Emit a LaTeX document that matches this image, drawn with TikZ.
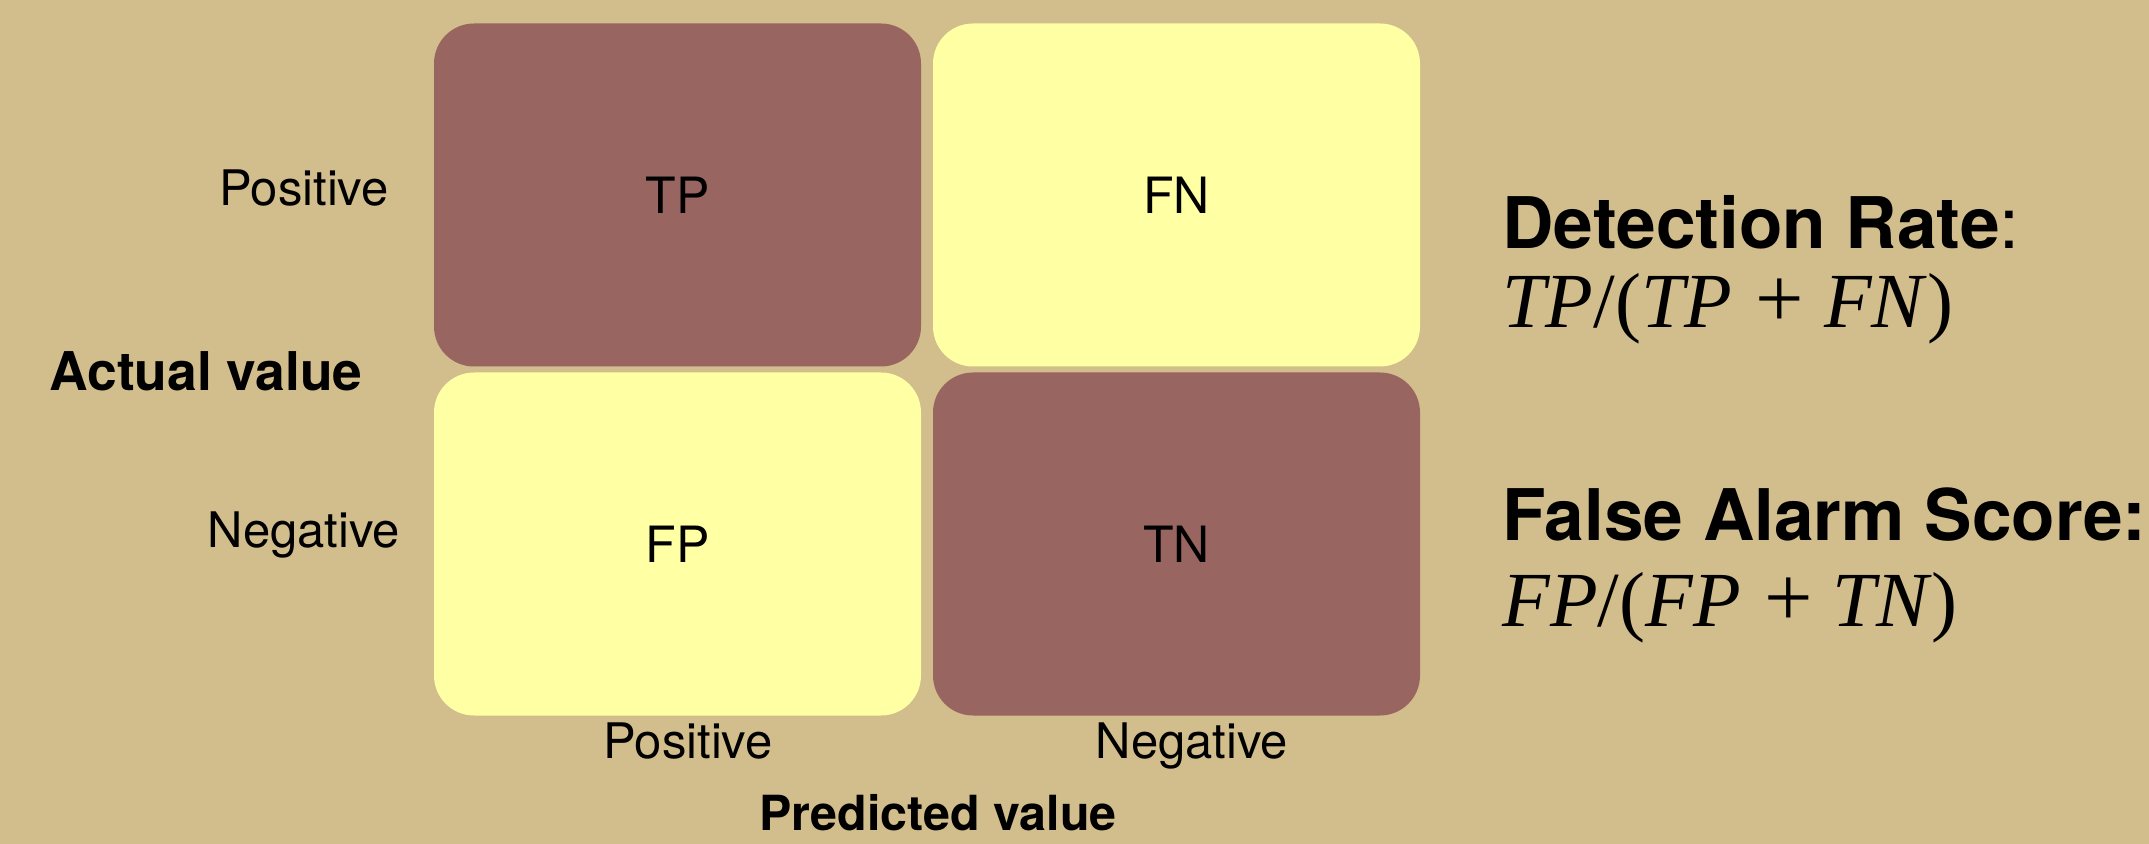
\documentclass[tikz,border=0pt]{standalone}
\usepackage{fontspec}
\setmainfont{TeX Gyre Heros}
\newfontfamily\formfont{Liberation Serif}
\definecolor{bgc}{HTML}{D2BD8C}
\definecolor{cbrown}{HTML}{996560}
\definecolor{cyellow}{HTML}{FFFFA3}
\newcommand{\pls}{\hspace{0.3em}{\fontsize{43}{44}\selectfont +}\hspace{0.26em}}
\begin{document}
\begin{tikzpicture}[x=0.5pt,y=-0.5pt,
  cell/.style={rectangle, rounded corners=20pt, minimum width=243.5pt, minimum height=171.5pt, inner sep=0pt, font=\fontsize{25}{29}\selectfont},
  lab/.style={anchor=base, inner sep=0pt, font=\fontsize{24.5}{29}\selectfont},
  axis/.style={anchor=base, inner sep=0pt, font=\fontsize{26.7}{30}\selectfont\bfseries},
  axisb/.style={anchor=base, inner sep=0pt, font=\fontsize{24.2}{30}\selectfont\bfseries},
  head/.style={anchor=base west, inner sep=0pt, font=\fontsize{35.6}{40}\selectfont\bfseries},
  form/.style={anchor=base west, inner sep=0pt, font=\fontsize{39}{44}\selectfont\formfont}]
\fill[bgc] (0,0) rectangle (2149,844);
\useasboundingbox (0,0) rectangle (2149,844);
\node[cell, fill=cbrown] (tp) at (677.5,195) {TP};
\node[cell, fill=cyellow] (fn) at (1176.5,195) {FN};
\node[cell, fill=cyellow] (fp) at (677.5,544) {FP};
\node[cell, fill=cbrown] (tn) at (1176.5,544) {TN};
\node[lab] (rpos) at (304,206) {Positive};
\node[lab] (rneg) at (304,548) {Negative};
\node[axis] (actual) at (206,391) {Actual value};
\node[lab] (cpos) at (688,758) {Positive};
\node[lab] (cneg) at (1192,758) {Negative};
\node[axisb] (pred) at (938,830) {Predicted value};
\node[head] (dr) at (1502,249) {Detection Rate\mdseries:};
\node[form] (drf) at (1502,328) {\textit{TP}/(\textit{TP}\pls\textit{FN})};
\node[head] (fa) at (1502,541) {False Alarm Score:};
\node[form] (faf) at (1502,626) {\textit{FP}/(\textit{FP}\pls\textit{TN})};
\end{tikzpicture}
\end{document}
